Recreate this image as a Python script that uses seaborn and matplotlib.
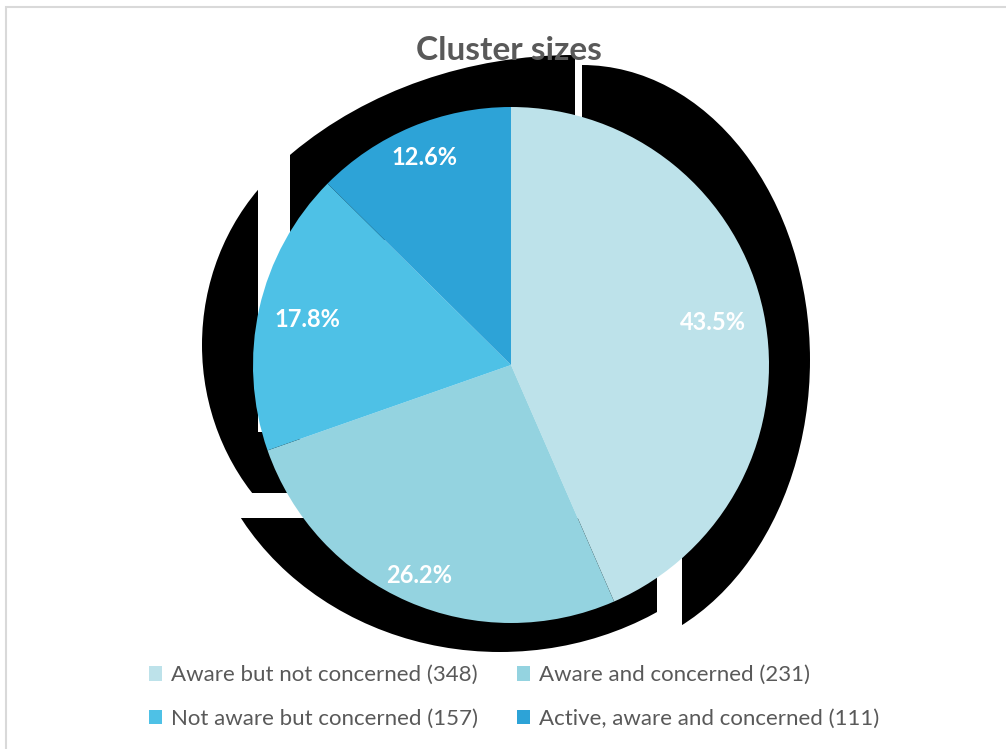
import numpy as np
import matplotlib
matplotlib.use("Agg")
import matplotlib.pyplot as plt
import seaborn as sns
from matplotlib.patches import Ellipse, Polygon, Patch, Rectangle

# ==========================================
# DATA
# ==========================================
clusters = ["Aware but not concerned", "Aware and concerned",
            "Not aware but concerned", "Active, aware and concerned"]
counts = [348, 231, 157, 111]
shares = [43.5, 26.2, 17.8, 12.6]   # percent shown on the slices

# ==========================================
# STYLE
# ==========================================
W, H = 1006, 749
colors = ["#BDE2EA", "#94D3E0", "#4EC1E6", "#2DA3D7"]
text_grey = "#595959"
pie_center = (511, H - 365)
pie_radius = 258
label_dist = [0.80, 0.89, 0.81, 0.87]

# the broken black drop shadow behind each slice (pixel units, y down):
# an ellipse (cx, cy, rx, ry) cut by a blocky clip outline
shadow_ell = [(582, 360, 228, 295), (500, 382, 300, 270),
              (420, 345, 218, 232), (575, 390, 400, 335)]
shadow_clip = [
    [(582, -50), (900, -50), (900, 800), (682, 800), (682, 480), (582, 480)],
    [(0, 518), (657, 518), (657, 800), (0, 800)],
    [(0, -50), (258, -50), (258, 432), (300, 432), (300, 493), (0, 493)],
    [(290, -50), (575, -50), (575, 240), (290, 240)],
]

sns.set_theme(style="white")
plt.rcParams['font.family'] = ['Lato', 'DejaVu Sans']

fig = plt.figure(figsize=(W / 100, H / 100), dpi=100)
ax = fig.add_axes([0, 0, 1, 1])

wedges, _, autotexts = ax.pie(
    shares, colors=colors, startangle=90, counterclock=False,
    center=pie_center, radius=pie_radius, frame=True,
    autopct=lambda p: f"{p:.1f}%",
    textprops=dict(color="white", fontweight="bold", fontsize=17),
    wedgeprops=dict(linewidth=0, zorder=2))

for w, txt, d in zip(wedges, autotexts, label_dist):
    mid = np.deg2rad((w.theta1 + w.theta2) / 2)
    txt.set_position((pie_center[0] + pie_radius * d * np.cos(mid),
                      pie_center[1] + pie_radius * d * np.sin(mid)))
    txt.set_zorder(3)

for (cx, cy, rx, ry), pts in zip(shadow_ell, shadow_clip):
    sh = Ellipse((cx, H - cy), 2 * rx, 2 * ry, color="black", lw=0, zorder=1)
    ax.add_patch(sh)
    clip = Polygon([(x, H - y) for x, y in pts], closed=True,
                   transform=ax.transData)
    sh.set_clip_path(clip)

ax.set_xlim(0, W)
ax.set_ylim(0, H)
ax.set_axis_off()

fig.text(509 / W, 1 - 50 / H, "Cluster sizes", ha="center", va="center",
         fontsize=24, fontweight="bold", color=text_grey, zorder=5)

handles = [Patch(facecolor=c, edgecolor="none") for c in colors]
names = [f"{n} ({c})" for n, c in zip(clusters, counts)]
order = [0, 2, 1, 3]
leg = fig.legend([handles[i] for i in order], [names[i] for i in order],
                 ncol=2, loc="center", bbox_to_anchor=(514 / W, 1 - 697 / H),
                 frameon=False, fontsize=16, handlelength=0.6, handleheight=0.6,
                 handletextpad=0.4, columnspacing=1.75, labelspacing=1.05)
for t in leg.get_texts():
    t.set_color(text_grey)

fig.patches.append(Rectangle((6 / W, -0.01), 1.0, 1 - 6.5 / H + 0.01,
                             transform=fig.transFigure, fill=False,
                             edgecolor="#D9D9D9", linewidth=1.5))

fig.savefig("out.png", dpi=100, facecolor="white")
